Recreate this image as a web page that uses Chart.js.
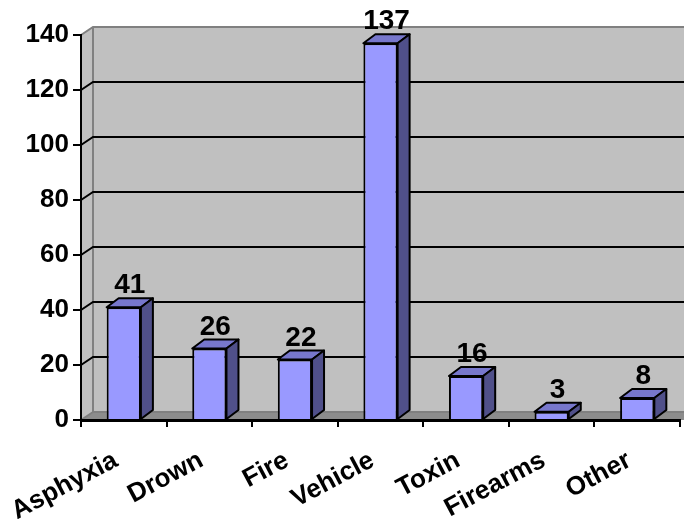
<!DOCTYPE html>
<html>
<head>
<meta charset="utf-8">
<script src="https://cdn.jsdelivr.net/npm/chart.js@4"></script>
<style>
  html, body { margin: 0; padding: 0; background: #fff; }
  #wrap { width: 684px; height: 519px; }
</style>
</head>
<body>
<div id="wrap"><canvas id="chart" width="684" height="519"></canvas></div>
<script>
const categories = ['Asphyxia', 'Drown', 'Fire', 'Vehicle', 'Toxin', 'Firearms', 'Other'];
const deaths = [41, 26, 22, 137, 16, 3, 8];
const yMin = 0;
const yMax = 140;
const yStep = 20;

const FONT = '"Liberation Sans", Arial, sans-serif';
// 3d depth offsets
const WALL_DX = 12, WALL_DY = 8;
const BAR_DX = 12, BAR_DY = 9;

const box3d = {
  id: 'box3d',
  beforeDraw(chart) {
    const { ctx, chartArea: { left, right, top, bottom }, scales: { y } } = chart;
    ctx.save();
    // back wall
    ctx.fillStyle = '#c0c0c0';
    ctx.fillRect(left + WALL_DX, top - WALL_DY, right - left + 10, bottom - top);
    // left wall
    ctx.beginPath();
    ctx.moveTo(left, top);
    ctx.lineTo(left + WALL_DX, top - WALL_DY);
    ctx.lineTo(left + WALL_DX, bottom - WALL_DY);
    ctx.lineTo(left, bottom);
    ctx.closePath();
    ctx.fill();
    // floor
    ctx.fillStyle = '#8c8c8c';
    ctx.beginPath();
    ctx.moveTo(left, bottom);
    ctx.lineTo(left + WALL_DX, bottom - WALL_DY);
    ctx.lineTo(right + WALL_DX, bottom - WALL_DY);
    ctx.lineTo(right + WALL_DX, bottom);
    ctx.closePath();
    ctx.fill();

    // wall edges
    ctx.strokeStyle = '#808080';
    ctx.lineWidth = 2;
    ctx.beginPath();
    ctx.moveTo(left, top);
    ctx.lineTo(left + WALL_DX, top - WALL_DY);
    ctx.lineTo(right + WALL_DX + 10, top - WALL_DY);
    ctx.moveTo(left + WALL_DX, top - WALL_DY);
    ctx.lineTo(left + WALL_DX, bottom - WALL_DY);
    ctx.lineTo(right + WALL_DX + 10, bottom - WALL_DY);
    ctx.moveTo(left, bottom);
    ctx.lineTo(left + WALL_DX, bottom - WALL_DY);
    ctx.stroke();

    // gridlines on side and back wall
    ctx.strokeStyle = '#000';
    ctx.lineWidth = 2;
    ctx.beginPath();
    for (let v = yMin + yStep; v < yMax; v += yStep) {
      const py = Math.round(y.getPixelForValue(v));
      ctx.moveTo(left, py);
      ctx.lineTo(left + WALL_DX, py - WALL_DY);
      ctx.lineTo(right + WALL_DX + 10, py - WALL_DY);
    }
    ctx.stroke();
    ctx.restore();
  },
  afterDatasetsDraw(chart) {
    const { ctx } = chart;
    const meta = chart.getDatasetMeta(0);
    ctx.save();
    ctx.lineWidth = 2;
    ctx.lineJoin = 'round';
    ctx.strokeStyle = '#000';
    meta.data.forEach((bar, i) => {
      const { x, y, base, width } = bar.getProps(['x', 'y', 'base', 'width'], true);
      const l = x - width / 2, r = x + width / 2;
      // top face
      ctx.fillStyle = '#7777cc';
      ctx.beginPath();
      ctx.moveTo(l, y);
      ctx.lineTo(l + BAR_DX, y - BAR_DY);
      ctx.lineTo(r + BAR_DX, y - BAR_DY);
      ctx.lineTo(r, y);
      ctx.closePath();
      ctx.fill();
      ctx.stroke();
      // side face
      ctx.fillStyle = '#50508a';
      ctx.beginPath();
      ctx.moveTo(r, y);
      ctx.lineTo(r + BAR_DX, y - BAR_DY);
      ctx.lineTo(r + BAR_DX, base - BAR_DY);
      ctx.lineTo(r, base);
      ctx.closePath();
      ctx.fill();
      ctx.stroke();
      // value label
      ctx.fillStyle = '#000';
      ctx.font = 'bold 28px ' + FONT;
      ctx.textAlign = 'center';
      ctx.textBaseline = 'alphabetic';
      ctx.fillText(String(deaths[i]), x + BAR_DX / 2, y - BAR_DY - 5);
    });
    ctx.restore();
  }
};

new Chart(document.getElementById('chart'), {
  type: 'bar',
  data: {
    labels: categories,
    datasets: [{
      data: deaths,
      backgroundColor: '#9999ff',
      borderColor: '#000',
      borderWidth: 2,
      barPercentage: 0.4,
      categoryPercentage: 1.0
    }]
  },
  options: {
    responsive: false,
    animation: false,
    devicePixelRatio: 1,
    layout: { padding: { top: 35, right: 4, left: 0, bottom: 0 } },
    plugins: {
      legend: { display: false },
      tooltip: { enabled: false }
    },
    scales: {
      x: {
        offset: true,
        grid: {
          offset: true,
          drawOnChartArea: false,
          color: '#000',
          lineWidth: 2,
          tickLength: 7
        },
        border: { display: true, color: '#000', width: 3 },
        ticks: {
          autoSkip: false,
          minRotation: 28,
          maxRotation: 28,
          padding: 18,
          labelOffset: -8,
          color: '#000',
          font: { family: FONT, size: 26, weight: 'bold' }
        },
        afterFit(scale) {
          scale.height = 99;
          scale.paddingLeft = 0;
          scale.paddingRight = 0;
        }
      },
      y: {
        min: yMin,
        max: yMax,
        ticks: {
          stepSize: yStep,
          padding: 4,
          color: '#000',
          font: { family: FONT, size: 26, weight: 'bold' }
        },
        grid: {
          drawOnChartArea: false,
          color: '#000',
          lineWidth: 2,
          tickLength: 8
        },
        border: { display: true, color: '#000', width: 2 },
        afterFit(scale) { scale.width = 81; }
      }
    }
  },
  plugins: [box3d]
});
</script>
</body>
</html>
